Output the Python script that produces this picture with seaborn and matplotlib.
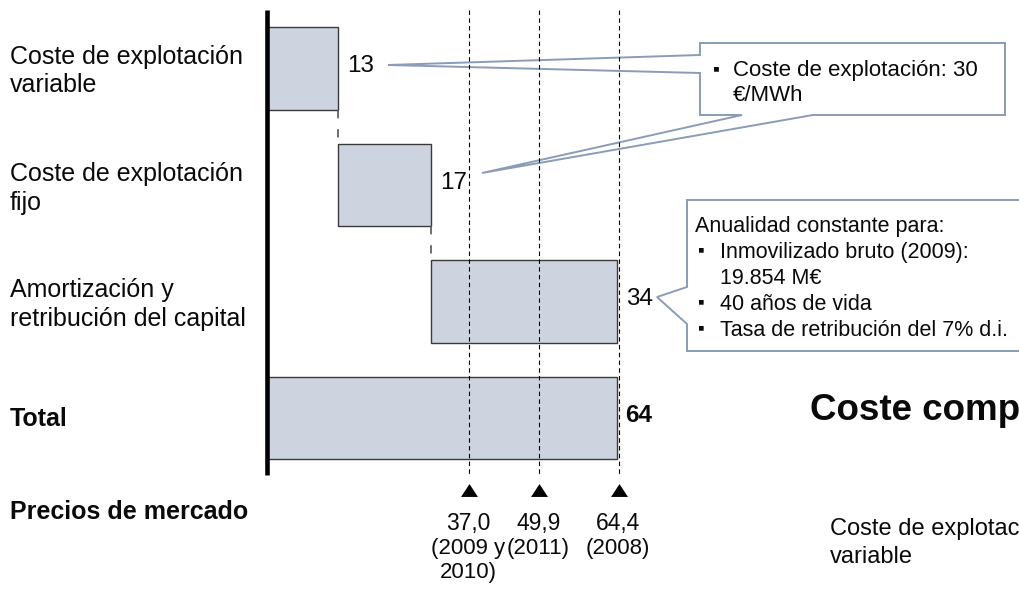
import matplotlib
matplotlib.use("Agg")
import matplotlib.pyplot as plt
import matplotlib.transforms as mtransforms
from matplotlib.patches import Polygon
import numpy as np
import pandas as pd
import seaborn as sns

# ---- data -------------------------------------------------------------
categories = ["Coste de explotación\nvariable",
              "Coste de explotación\nfijo",
              "Amortización y\nretribución del capital",
              "Total"]
values = [13, 17, 34, 64]                      # €/MWh
prices = [37.0, 49.9, 64.4]                    # precios de mercado, €/MWh
price_years = ["(2009 y\n2010)", "(2011)", "(2008)"]

opex_note = ["Coste de explotación: 30", "€/MWh"]
capex_title = "Anualidad constante para:"
capex_items = [["Inmovilizado bruto (2009):", "19.854 M€"],
               ["40 años de vida"],
               ["Tasa de retribución del 7% d.i."]]

# ---- style ------------------------------------------------------------
W, H = 1020, 591
BAR = "#cdd4df"
EDGE = "#3a3a3a"
CALL = "#8a9cb8"
INK = "#0a0a0a"

sns.set_theme(style="white")
plt.rcParams["font.family"] = ["Liberation Sans", "DejaVu Sans"]

fig = plt.figure(figsize=(W / 100, H / 100), dpi=100)
ax = fig.add_axes([0, 0, 1, 1])

# pixel-based transform for annotation layout (origin top-left)
PX = mtransforms.Affine2D().scale(1 / W, -1 / H).translate(0, 1) + fig.transFigure

# value scale: ~5.47 px per €/MWh, zero at x=266.5 px ; rows 116.5 px apart
X0, XS = 266.5, 5.47
Y0, YS = 68.5, 116.5


def dy(py):
    return (py - Y0) / YS


# ---- waterfall bars ---------------------------------------------------
steps = values[:-1]
starts = list(np.concatenate([[0], np.cumsum(steps)[:-1]])) + [0]
ends = [s + v for s, v in zip(starts, values)]
bar_h = 0.712

df = pd.DataFrame({"categoria": categories, "valor": values})
sns.barplot(data=df, x="valor", y="categoria", orient="h", color=BAR,
            saturation=1, edgecolor=EDGE, linewidth=1.0, width=bar_h,
            errorbar=None, ax=ax, zorder=2)
for patch, s in zip(ax.patches, starts):
    patch.set_x(s)

ax.set_xlim(-X0 / XS, (W - X0) / XS)
ax.set_ylim(dy(H), dy(0))
ax.set_axis_off()

# connectors between consecutive steps
for i in range(len(steps) - 1):
    ax.vlines(ends[i], i + bar_h / 2, i + 1 - bar_h / 2, colors="#555555",
              linestyles=(0, (5, 6.5)), lw=1.2, zorder=3)

# value labels
for i, (e, v) in enumerate(zip(ends, values)):
    ax.annotate(f"{v:g}", xy=(e, i), xytext=(6.5, -2.6), textcoords="offset points",
                ha="left", va="baseline", fontsize=17.5,
                fontweight="bold" if i == len(values) - 1 else "normal",
                color=INK, zorder=6)

# market-price reference lines and markers
y_top, y_bot = dy(10), dy(475)
ax.vlines(prices, y_top, y_bot, colors="black", linestyles=(0, (4, 3)), lw=0.8, zorder=4)
ax.vlines(0, y_top, y_bot, colors="black", lw=3.3, zorder=5)

tri = [(-1, -0.76), (1, -0.76), (0, 0.76), (-1, -0.76)]
ax.plot(prices, [dy(490)] * len(prices), linestyle="none", marker=tri,
        markersize=12.2, color="black", markeredgewidth=0, zorder=5)


def txt(x, yc, s, size, weight="normal", ha="left", **kw):
    fig.text(x, yc + 0.358 * size * 100 / 72, s, transform=PX, fontsize=size,
             fontweight=weight, ha=ha, va="baseline", color=INK, **kw)


for p, yrs in zip(prices, price_years):
    xp = X0 + p * XS
    txt(xp - 1, 522, f"{p:.1f}".replace(".", ","), 16.5, ha="center")
    for k, line in enumerate(yrs.split("\n")):
        txt(xp - 1, 546 + 24 * k, line, 16, ha="center")

# ---- category labels --------------------------------------------------
label_rows = [(55, 83), (172, 201), (288, 317)]
for cat, rows in zip(categories[:-1], label_rows):
    for line, yc in zip(cat.split("\n"), rows):
        txt(10, yc, line, 18)
txt(10, 417, categories[-1], 18, weight="bold")
txt(10, 510, "Precios de mercado", 18, weight="bold")

# ---- callouts ---------------------------------------------------------
call1 = [(700, 43), (1005, 43), (1005, 115), (813, 115), (482, 173), (742, 115),
         (700, 115), (700, 73), (388, 65), (700, 55)]
ax.add_patch(Polygon(call1, closed=True, transform=PX, facecolor="white",
                     edgecolor=CALL, lw=1.4, zorder=2.5))
txt(713, 67, "▪", 14)
txt(733, 68, opex_note[0], 16)
txt(733, 93, opex_note[1], 16)

call2 = [(687, 200), (1030, 200), (1030, 351), (687, 351), (687, 324),
         (657, 297), (687, 287)]
ax.add_patch(Polygon(call2, closed=True, transform=PX, facecolor="white",
                     edgecolor=CALL, lw=1.4, zorder=2.5))
txt(695, 224, capex_title, 15.5)
yc = 250
for item in capex_items:
    txt(698, yc - 1, "▪", 13.5)
    for line in item:
        txt(720, yc, line, 15.5)
        yc += 26

# ---- section heading on the right ------------------------------------
txt(810, 407, "Coste comp", 26.5, weight="bold")
txt(830, 527, "Coste de explotac", 17)
txt(830, 555, "variable", 17)

fig.savefig("out.png", dpi=100, facecolor="white")
